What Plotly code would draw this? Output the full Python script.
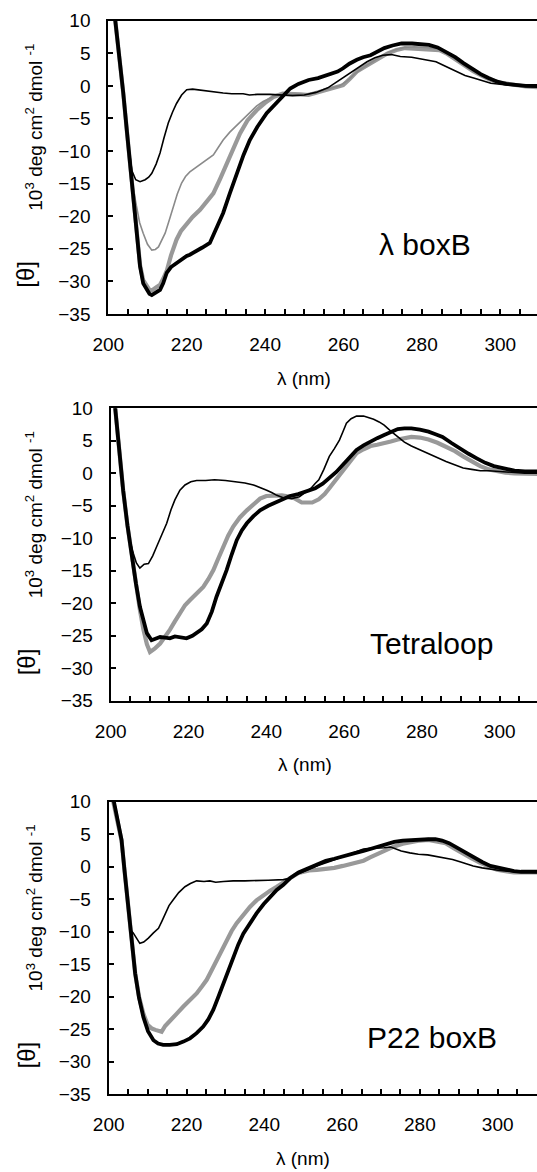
import plotly.graph_objects as go

# ---------------- data ----------------
# Panel 1: lambda boxB
P1_BLACK_THICK_X = [201.6, 202.8, 203.8, 204.8, 205.6, 206.4, 207.2, 208.1, 208.9, 209.8, 210.5, 211.1, 212.0, 213.2, 214.0, 214.9,
                    216.0, 217.4, 218.5, 220.0, 220.8, 222.5, 224.0, 225.9, 227.5, 229.3, 231.0, 232.8, 234.5, 236.1, 238.0, 240.4,
                    242.5, 244.5, 246.4, 248.5, 251.1, 253.5, 256.4, 258.5, 259.9, 261.5, 263.4, 265.0, 266.9, 268.5, 270.4, 272.5,
                    274.8, 277.5, 280.0, 281.8, 284.0, 286.2, 288.5, 290.6, 293.0, 295.0, 297.0, 299.4, 301.5, 303.8, 306.5, 309.7]
P1_BLACK_THICK_Y = [11.0, 5.0, -1.0, -7.3, -12.3, -17.3, -22.4, -27.7, -30.3, -31.3, -31.9, -32.1, -31.8, -31.3, -30.3, -28.7,
                    -27.8, -27.2, -26.6, -26.1, -25.9, -25.4, -24.8, -24.1, -22.0, -19.5, -16.5, -13.4, -10.6, -8.3, -6.3, -4.2,
                    -2.8, -1.6, -0.4, 0.3, 0.9, 1.2, 1.7, 2.2, 2.7, 3.4, 4.0, 4.4, 4.7, 5.2, 5.8, 6.2,
                    6.5, 6.5, 6.4, 6.3, 5.9, 5.2, 4.4, 3.5, 2.5, 1.8, 1.2, 0.6, 0.3, 0.1, 0.0, 0.0]

P1_GRAY_THICK_X = [201.6, 202.8, 203.8, 204.8, 205.6, 206.4, 207.2, 208.1, 208.9, 209.8, 210.5, 211.1, 212.0, 213.2, 214.0, 214.9,
                   216.0, 217.4, 218.5, 220.0, 221.5, 223.4, 225.0, 226.8, 228.5, 230.2, 232.0, 233.6, 235.5, 237.9, 240.0, 242.1,
                   244.5, 247.0, 249.0, 251.1, 253.5, 256.4, 258.0, 259.9, 261.5, 263.4, 265.0, 266.9, 269.0, 271.3, 273.5, 275.7,
                   278.0, 280.0, 282.5, 284.5, 286.5, 288.8, 291.0, 293.2, 295.5, 297.6, 300.0, 303.8, 306.5, 309.7]
P1_GRAY_THICK_Y = [11.0, 5.0, -1.0, -7.3, -12.3, -17.3, -22.4, -27.5, -29.8, -30.8, -31.3, -31.4, -31.0, -30.5, -29.6, -28.4,
                   -26.0, -23.6, -22.3, -21.1, -20.1, -19.0, -17.8, -16.5, -14.3, -11.9, -9.4, -7.3, -5.3, -3.7, -2.6, -1.7,
                   -1.2, -1.2, -1.3, -1.4, -1.0, -0.6, -0.3, 0.1, 1.0, 2.2, 2.8, 3.5, 4.3, 5.0, 5.5, 5.8,
                   5.7, 5.6, 5.6, 5.5, 4.9, 4.0, 3.1, 2.2, 1.5, 0.9, 0.5, 0.1, -0.1, -0.2]

P1_GRAY_THIN_X = [201.6, 202.8, 203.8, 204.8, 206.0, 207.2, 208.0, 208.9, 210.0, 211.1, 212.0, 212.8, 213.6, 214.5, 215.5, 216.6,
                  217.6, 218.7, 219.7, 220.8, 222.0, 223.4, 225.0, 226.8, 228.0, 229.3, 231.0, 232.8, 234.5, 236.1, 237.8, 239.5,
                  241.2, 243.0, 245.0, 247.5, 250.0, 253.0, 256.0, 259.0, 261.0, 263.0, 265.0, 267.0, 269.0, 271.0, 273.0, 275.5,
                  278.0, 281.0, 284.0, 286.5, 289.0, 291.5, 294.0, 296.5, 299.0, 302.0, 305.0, 309.7]
P1_GRAY_THIN_Y = [11.0, 5.0, -1.0, -7.3, -14.5, -18.5, -21.0, -22.6, -24.3, -25.2, -25.1, -24.7, -23.8, -22.6, -20.7, -18.5,
                  -16.6, -14.9, -13.9, -13.2, -12.7, -12.1, -11.4, -10.6, -9.5, -8.3, -7.1, -6.0, -5.0, -4.0, -3.1, -2.4,
                  -1.9, -1.4, -1.3, -1.3, -1.3, -1.0, -0.5, 0.0, 0.8, 1.9, 2.8, 3.6, 4.3, 5.0, 5.5, 5.9,
                  6.0, 5.9, 5.7, 5.0, 3.9, 2.8, 1.9, 1.1, 0.6, 0.2, 0.0, -0.1]

P1_BLACK_THIN_X = [201.6, 202.8, 203.8, 205.0, 206.0, 207.0, 208.1, 209.4, 210.3, 211.1, 212.2, 213.2, 214.2, 215.3, 216.4, 217.4,
                   218.7, 220.0, 221.5, 222.9, 225.0, 227.0, 229.3, 231.5, 234.4, 236.0, 238.0, 241.2, 244.0, 247.0, 250.0, 253.0,
                   256.0, 258.0, 260.0, 262.0, 264.0, 266.0, 268.0, 270.0, 272.2, 274.5, 277.4, 280.5, 283.6, 286.0, 288.8, 291.0,
                   293.2, 295.5, 297.6, 300.5, 303.8, 306.5, 309.7]
P1_BLACK_THIN_Y = [11.0, 5.0, -1.0, -8.2, -13.0, -14.4, -14.7, -14.4, -14.0, -13.4, -12.0, -10.3, -8.0, -5.7, -4.0, -2.7,
                   -1.4, -0.6, -0.5, -0.6, -0.8, -1.0, -1.1, -1.2, -1.2, -1.4, -1.3, -1.3, -1.4, -1.5, -1.4, -1.0,
                   -0.3, 0.5, 1.3, 2.2, 3.0, 3.7, 4.3, 4.7, 4.8, 4.5, 4.4, 4.1, 3.7, 3.0, 2.2, 1.6,
                   1.2, 0.8, 0.4, 0.2, 0.0, -0.1, -0.2]

# Panel 2: Tetraloop
P2_BLACK_THICK_X = [201.0, 202.0, 203.2, 204.3, 205.4, 206.5, 207.5, 208.4, 209.3, 210.5, 211.6, 212.7, 214.0, 215.2, 216.5, 217.8,
                    219.5, 221.0, 222.1, 223.4, 224.7, 226.0, 227.2, 228.5, 229.8, 231.1, 232.4, 233.7, 235.0, 236.7, 238.4, 240.5,
                    242.7, 244.5, 246.1, 248.2, 250.5, 252.6, 254.5, 256.2, 258.0, 259.7, 261.5, 263.2, 265.0, 266.8, 268.5, 270.3,
                    272.0, 273.8, 275.5, 277.3, 279.5, 281.7, 283.5, 285.3, 287.5, 289.7, 292.0, 294.1, 296.3, 298.5, 301.0, 303.8,
                    306.5, 309.8]
P2_BLACK_THICK_Y = [11.0, 4.7, -2.6, -8.0, -12.8, -17.0, -20.5, -22.8, -24.6, -25.7, -25.5, -25.2, -25.3, -25.4, -25.1, -25.2,
                    -25.4, -25.0, -24.6, -24.0, -23.1, -21.3, -19.0, -17.0, -14.9, -12.5, -10.3, -8.8, -7.7, -6.6, -5.7, -5.0,
                    -4.4, -4.0, -3.5, -3.2, -2.8, -2.3, -1.6, -0.8, 0.2, 1.3, 2.5, 3.6, 4.3, 4.9, 5.4, 5.9,
                    6.4, 6.8, 6.9, 6.9, 6.7, 6.4, 6.0, 5.6, 4.7, 3.8, 3.0, 2.3, 1.6, 1.1, 0.7, 0.4,
                    0.3, 0.3]

P2_GRAY_THICK_X = [201.0, 202.0, 203.2, 204.3, 205.4, 206.5, 207.5, 208.4, 209.3, 210.1, 211.3, 212.7, 214.0, 215.2, 216.5, 217.8,
                   219.1, 220.4, 222.1, 223.8, 225.1, 226.4, 227.6, 228.9, 230.2, 231.5, 233.2, 235.0, 236.7, 238.4, 240.0, 241.8,
                   244.0, 246.1, 247.4, 249.1, 251.8, 253.5, 255.0, 256.2, 258.0, 259.7, 261.5, 263.2, 265.0, 266.8, 268.5, 270.3,
                   272.0, 273.8, 275.5, 277.3, 279.5, 281.7, 284.0, 286.2, 288.5, 290.6, 292.8, 295.0, 297.2, 299.4, 301.5, 303.8,
                   306.5, 309.8]
P2_GRAY_THICK_Y = [11.0, 4.7, -2.6, -8.0, -12.8, -17.2, -21.0, -24.0, -26.3, -27.5, -27.0, -26.2, -25.2, -24.1, -22.8, -21.5,
                   -20.3, -19.5, -18.5, -17.5, -16.3, -14.9, -13.2, -11.3, -9.6, -8.2, -6.8, -5.7, -4.7, -3.9, -3.5, -3.4,
                   -3.4, -3.6, -3.9, -4.5, -4.5, -4.0, -3.2, -2.3, -0.9, 0.5, 1.9, 3.1, 3.7, 4.2, 4.4, 4.6,
                   4.9, 5.2, 5.4, 5.6, 5.5, 5.2, 4.7, 4.1, 3.4, 2.6, 1.8, 1.1, 0.6, 0.3, 0.1, 0.0,
                   -0.1, -0.1]

P2_BLACK_THIN_X = [201.0, 202.0, 203.2, 204.3, 205.0, 205.8, 206.6, 207.5, 208.6, 209.7, 210.8, 211.8, 213.1, 214.4, 215.5, 216.5,
                   217.8, 219.1, 220.6, 222.1, 224.4, 226.7, 229.5, 232.4, 234.5, 236.7, 238.5, 240.1, 241.5, 242.7, 244.5, 246.5,
                   248.5, 250.0, 251.5, 252.5, 253.5, 254.8, 256.2, 257.5, 258.8, 259.7, 260.6, 261.8, 263.2, 265.0, 266.3, 267.6,
                   269.0, 270.3, 272.0, 273.8, 275.5, 277.3, 279.5, 281.7, 284.0, 286.2, 288.4, 290.6, 292.8, 295.0, 297.2, 299.4,
                   301.5, 303.8, 306.5, 309.8]
P2_BLACK_THIN_Y = [11.0, 4.7, -2.6, -7.8, -10.5, -12.3, -13.8, -14.6, -14.0, -13.9, -12.7, -11.3, -9.6, -7.7, -5.6, -4.1,
                   -2.6, -1.8, -1.3, -1.1, -1.1, -1.0, -1.1, -1.3, -1.5, -1.8, -2.2, -2.6, -3.0, -3.4, -3.8, -3.9,
                   -3.6, -3.0, -2.3, -1.6, -1.0, 0.6, 2.6, 3.8, 5.1, 6.4, 7.7, 8.4, 8.8, 8.8, 8.6, 8.3,
                   7.9, 7.4, 6.5, 5.6, 4.8, 4.2, 3.6, 3.0, 2.4, 1.8, 1.3, 0.8, 0.6, 0.4, 0.4, 0.3,
                   0.2, 0.1, 0.0, 0.0]

# Panel 3: P22 boxB
P3_BLACK_THICK_X = [201.0, 202.2, 203.3, 204.1, 205.0, 205.9, 206.8, 207.8, 208.9, 210.1, 211.5, 212.7, 214.0, 215.7, 217.5, 219.2,
                    220.9, 222.6, 224.3, 225.6, 226.9, 228.2, 229.5, 230.7, 232.0, 233.3, 234.6, 236.3, 238.0, 239.8, 241.5, 243.2,
                    244.9, 246.6, 248.8, 251.5, 253.5, 255.8, 258.0, 260.2, 262.8, 265.5, 267.2, 269.0, 271.2, 273.4, 275.6, 277.8,
                    280.0, 282.2, 284.0, 285.7, 287.5, 289.3, 291.5, 293.7, 296.0, 298.1, 300.3, 302.5, 304.2, 306.0, 308.0, 310.2]
P3_BLACK_THICK_Y = [11.0, 7.5, 4.1, -0.8, -6.2, -11.4, -16.4, -20.2, -23.1, -25.3, -26.7, -27.2, -27.4, -27.4, -27.3, -26.9,
                    -26.4, -25.6, -24.6, -23.5, -22.0, -20.0, -17.9, -15.9, -13.9, -12.0, -10.3, -8.7, -7.2, -5.8, -4.6, -3.6,
                    -2.8, -1.8, -0.9, -0.2, 0.3, 0.9, 1.2, 1.6, 2.0, 2.4, 2.7, 3.1, 3.5, 3.8, 4.0, 4.1,
                    4.2, 4.2, 4.2, 4.0, 3.6, 3.0, 2.2, 1.4, 0.7, 0.1, -0.2, -0.5, -0.7, -0.8, -0.8, -0.8]

P3_GRAY_THICK_X = [200.8, 202.2, 203.3, 204.1, 205.0, 205.9, 206.8, 207.8, 208.9, 210.0, 211.1, 212.0, 213.0, 213.6, 214.5, 215.8,
                   217.5, 219.2, 220.9, 222.6, 224.0, 225.2, 226.5, 227.8, 229.0, 230.3, 231.6, 232.9, 234.6, 236.3, 238.0, 239.7,
                   241.5, 243.2, 244.9, 246.6, 248.8, 251.5, 253.5, 255.8, 258.0, 260.2, 262.8, 265.5, 267.2, 269.0, 271.2, 273.4,
                   275.6, 277.8, 280.0, 282.2, 284.4, 286.6, 288.8, 291.0, 293.2, 295.4, 297.6, 299.8, 302.0, 304.2, 307.0, 310.2]
P3_GRAY_THICK_Y = [11.0, 7.3, 4.0, -0.8, -6.2, -11.4, -16.4, -20.0, -22.6, -24.3, -24.9, -25.1, -25.3, -25.4, -24.5, -23.6,
                   -22.6, -21.5, -20.5, -19.5, -18.4, -17.4, -15.9, -14.4, -12.8, -11.3, -9.9, -8.7, -7.4, -6.2, -5.2, -4.4,
                   -3.7, -3.1, -2.4, -1.8, -1.0, -0.6, -0.5, -0.4, -0.2, 0.1, 0.5, 0.9, 1.4, 1.9, 2.5, 3.1,
                   3.5, 3.8, 4.0, 4.1, 3.9, 3.6, 2.8, 2.0, 1.3, 0.6, 0.0, -0.5, -0.7, -0.9, -0.9, -0.9]

P3_BLACK_THIN_X = [201.0, 202.2, 203.3, 204.1, 205.0, 205.6, 206.3, 207.0, 208.0, 209.0, 210.2, 211.5, 212.8, 213.6, 214.5, 215.5,
                   216.6, 218.0, 219.6, 221.0, 222.6, 224.5, 226.0, 227.5, 229.5, 232.0, 235.0, 238.0, 241.0, 244.9, 246.5, 248.5,
                   251.4, 254.0, 257.0, 260.2, 262.8, 265.5, 267.2, 269.0, 270.8, 272.5, 274.0, 275.2, 277.4, 279.6, 282.0, 284.0,
                   286.2, 288.4, 290.5, 292.0, 293.7, 296.0, 298.1, 300.5, 304.2, 307.0, 310.2]
P3_BLACK_THIN_Y = [11.0, 7.5, 4.1, -0.8, -6.2, -9.7, -10.2, -10.8, -11.8, -11.6, -11.0, -10.2, -9.5, -8.5, -7.2, -6.0,
                   -5.1, -4.0, -3.1, -2.6, -2.2, -2.3, -2.2, -2.4, -2.3, -2.2, -2.2, -2.1, -2.1, -2.0, -1.8, -1.2,
                   -0.4, 0.2, 0.8, 1.5, 2.1, 2.7, 2.8, 2.8, 2.9, 3.0, 2.7, 2.4, 2.1, 1.9, 1.8, 1.6,
                   1.3, 1.1, 0.7, 0.4, 0.1, -0.2, -0.4, -0.6, -0.8, -0.9, -0.9]

PANEL_NAMES = ["\u03bb boxB", "Tetraloop", "P22 boxB"]
PANEL_NAME_POS = [(280.7, -24.4), (282.4, -26.2), (283.1, -26.2)]
Y_TICKS = [10, 5, 0, -5, -10, -15, -20, -25, -30, -35]
X_TICKS = [200, 220, 240, 260, 280, 300]

# ---------------- layout geometry (pixels) ----------------
W, H = 537, 1172
# left px, top px, bottom px, px per nm
PANELS = [(108.3, 20.7, 314.0, 3.92), (110.7, 408.3, 700.7, 3.89), (108.7, 801.5, 1094.3, 3.89)]

FONT = "Liberation Sans, Arial, Helvetica, sans-serif"
GRAY = "#999999"

series = [
    [(P1_GRAY_THICK_X, P1_GRAY_THICK_Y, GRAY, 4.2),
     (P1_GRAY_THIN_X, P1_GRAY_THIN_Y, "#8a8a8a", 1.6),
     (P1_BLACK_THICK_X, P1_BLACK_THICK_Y, "black", 3.8),
     (P1_BLACK_THIN_X, P1_BLACK_THIN_Y, "black", 1.6)],
    [(P2_GRAY_THICK_X, P2_GRAY_THICK_Y, GRAY, 4.2),
     (P2_BLACK_THICK_X, P2_BLACK_THICK_Y, "black", 3.8),
     (P2_BLACK_THIN_X, P2_BLACK_THIN_Y, "black", 1.6)],
    [(P3_GRAY_THICK_X, P3_GRAY_THICK_Y, GRAY, 4.2),
     (P3_BLACK_THICK_X, P3_BLACK_THICK_Y, "black", 3.8),
     (P3_BLACK_THIN_X, P3_BLACK_THIN_Y, "black", 1.6)],
]

fig = go.Figure()
annotations = []
layout = dict(width=W, height=H, margin=dict(l=0, r=0, t=0, b=0, autoexpand=False),
              paper_bgcolor="white", plot_bgcolor="white", showlegend=False,
              font=dict(family=FONT, color="black"))

for i, (left, top, bottom, ppn) in enumerate(PANELS):
    n = "" if i == 0 else str(i + 1)
    xa, ya = "x" + n, "y" + n
    for (xs, ys, col, wdt) in series[i]:
        assert len(xs) == len(ys)
        fig.add_trace(go.Scatter(x=xs, y=ys, mode="lines", xaxis=xa, yaxis=ya,
                                 line=dict(color=col, width=wdt), hoverinfo="skip"))
    xmax = 200 + (W - left) / ppn
    layout["xaxis" + n] = dict(
        domain=[left / W, 1], anchor=ya, range=[200, xmax], automargin=False,
        showgrid=False, zeroline=False, showline=True, linecolor="black", linewidth=2,
        mirror=True, ticks="inside", ticklen=5, tickwidth=1.5, tickcolor="black",
        tickvals=X_TICKS, ticklabelstandoff=12,
        tickfont=dict(size=19, family=FONT, color="black"),
        minor=dict(dtick=5, ticks="inside", ticklen=5, tickwidth=1.5, tickcolor="black", showgrid=False),
    )
    layout["yaxis" + n] = dict(
        domain=[1 - bottom / H, 1 - top / H], anchor=xa, range=[-35, 10], automargin=False,
        showgrid=False, zeroline=False, showline=True, linecolor="black", linewidth=2,
        ticks="inside", ticklen=5, tickwidth=1.5, tickcolor="black",
        tickvals=Y_TICKS, ticklabelstandoff=12,
        tickfont=dict(size=19, family=FONT, color="black"),
    )
    # panel name
    px_, py_ = PANEL_NAME_POS[i]
    annotations.append(dict(x=px_, y=py_, xref=xa, yref=ya, text=PANEL_NAMES[i], showarrow=False,
                            font=dict(size=30, family=FONT, color="black"), xanchor="center", yanchor="middle"))
    # x title
    annotations.append(dict(x=250, y=1 - (bottom + 64) / H, xref=xa, yref="paper", text="\u03bb (nm)",
                            showarrow=False, font=dict(size=19, family=FONT, color="black"),
                            xanchor="center", yanchor="middle"))
    # y titles
    annotations.append(dict(x=34 / W, y=1 - (top + 107) / H, xref="paper", yref="paper",
                            text="10<sup>3</sup> deg cm<sup>2</sup> dmol <sup>-1</sup>", textangle=-90,
                            showarrow=False, font=dict(size=19, family=FONT, color="black"),
                            xanchor="center", yanchor="middle"))
    annotations.append(dict(x=26 / W, y=1 - (top + 254) / H, xref="paper", yref="paper",
                            text="[\u03b8]", textangle=-90, showarrow=False,
                            font=dict(size=24, family=FONT, color="black"),
                            xanchor="center", yanchor="middle"))

layout["annotations"] = annotations
fig.update_layout(**layout)
fig.write_html("out.html", config={"displayModeBar": False},
               post_script="document.body.style.margin='0';document.documentElement.style.overflow='hidden';")
